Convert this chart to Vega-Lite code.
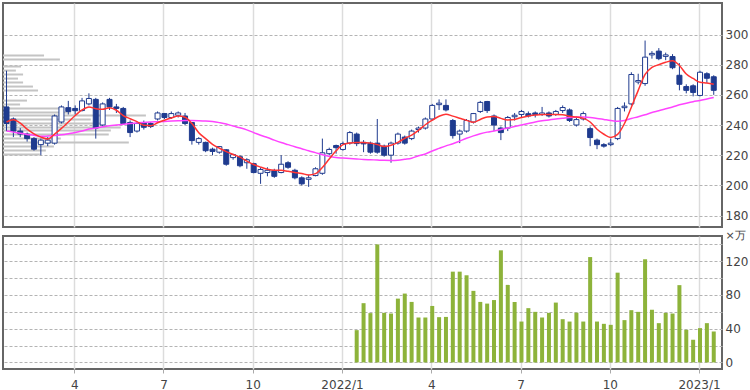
{
  "$schema": "https://vega.github.io/schema/vega-lite/v6.json",
  "padding": {"left": 2, "top": 2, "right": 0, "bottom": 0},
  "background": "white",
  "bounds": "flush",
  "spacing": 9,
  "config": {
    "view": {"stroke": "#666666", "strokeWidth": 2},
    "font": "DejaVu Sans",
    "axis": {"labelFont": "DejaVu Sans", "labelFontSize": 12, "labelColor": "#444444", "titleFont": "DejaVu Sans", "labelOverlap": false}
  },
  "datasets": {
    "w": [
      {"d": "2021-01-25", "o": 252, "h": 276, "l": 236, "c": 241, "v": null, "m13": 242, "m26": 236},
      {"d": "2021-02-01", "o": 244, "h": 245, "l": 232, "c": 236, "v": null, "m13": 243.5, "m26": 235.3},
      {"d": "2021-02-08", "o": 236, "h": 238, "l": 232, "c": 234, "v": null, "m13": 241.3, "m26": 234.5},
      {"d": "2021-02-15", "o": 234, "h": 235, "l": 229, "c": 231, "v": null, "m13": 237.3, "m26": 233.8},
      {"d": "2021-02-22", "o": 231, "h": 232, "l": 223, "c": 224, "v": null, "m13": 234.2, "m26": 233.2},
      {"d": "2021-03-01", "o": 227, "h": 231, "l": 220, "c": 230, "v": null, "m13": 232, "m26": 232.5},
      {"d": "2021-03-08", "o": 228, "h": 232, "l": 226, "c": 230, "v": null, "m13": 230.7, "m26": 232.7},
      {"d": "2021-03-15", "o": 228, "h": 247, "l": 227, "c": 246, "v": null, "m13": 234, "m26": 233},
      {"d": "2021-03-22", "o": 242, "h": 253, "l": 241, "c": 252, "v": null, "m13": 237.8, "m26": 233.5},
      {"d": "2021-03-29", "o": 251.5, "h": 256, "l": 247, "c": 249, "v": null, "m13": 242, "m26": 234.2},
      {"d": "2021-04-05", "o": 251, "h": 253, "l": 247, "c": 249.5, "v": null, "m13": 246.3, "m26": 235},
      {"d": "2021-04-12", "o": 249.6, "h": 258, "l": 249, "c": 256, "v": null, "m13": 250, "m26": 236.1},
      {"d": "2021-04-19", "o": 254, "h": 261, "l": 253, "c": 257.6, "v": null, "m13": 252, "m26": 237.3},
      {"d": "2021-04-26", "o": 257, "h": 258, "l": 231, "c": 238, "v": null, "m13": 250.8, "m26": 238.1},
      {"d": "2021-05-03", "o": 240, "h": 255, "l": 239, "c": 254, "v": null, "m13": 250.4, "m26": 238.8},
      {"d": "2021-05-10", "o": 257, "h": 258, "l": 250, "c": 252, "v": null, "m13": 251.5, "m26": 239.5},
      {"d": "2021-05-17", "o": 252, "h": 254, "l": 248, "c": 251, "v": null, "m13": 249.8, "m26": 240},
      {"d": "2021-05-24", "o": 251, "h": 252, "l": 240, "c": 241, "v": null, "m13": 246.3, "m26": 240.5},
      {"d": "2021-05-31", "o": 241.7, "h": 243, "l": 232, "c": 235, "v": null, "m13": 244.2, "m26": 241},
      {"d": "2021-06-07", "o": 236, "h": 242, "l": 235, "c": 241, "v": null, "m13": 242.3, "m26": 241.4},
      {"d": "2021-06-14", "o": 241.5, "h": 243, "l": 237, "c": 238.5, "v": null, "m13": 239.8, "m26": 241.7},
      {"d": "2021-06-21", "o": 241, "h": 242, "l": 238, "c": 239, "v": null, "m13": 239.5, "m26": 242},
      {"d": "2021-06-28", "o": 244, "h": 249, "l": 243, "c": 248, "v": null, "m13": 241.5, "m26": 242.2},
      {"d": "2021-07-05", "o": 247.6, "h": 248, "l": 244, "c": 245, "v": null, "m13": 243.2, "m26": 242.4},
      {"d": "2021-07-12", "o": 245, "h": 249, "l": 244, "c": 247.6, "v": null, "m13": 244.7, "m26": 242.6},
      {"d": "2021-07-19", "o": 246.5, "h": 249, "l": 245, "c": 248, "v": null, "m13": 246, "m26": 242.8},
      {"d": "2021-07-26", "o": 246, "h": 248, "l": 240, "c": 241, "v": null, "m13": 245.2, "m26": 243},
      {"d": "2021-08-02", "o": 241.7, "h": 242, "l": 227, "c": 229.7, "v": null, "m13": 241, "m26": 243},
      {"d": "2021-08-09", "o": 228.5, "h": 232, "l": 227, "c": 231, "v": null, "m13": 234.9, "m26": 242.9},
      {"d": "2021-08-16", "o": 228.5, "h": 229, "l": 222, "c": 223, "v": null, "m13": 231, "m26": 242.7},
      {"d": "2021-08-23", "o": 224, "h": 225, "l": 220, "c": 222.5, "v": null, "m13": 227.2, "m26": 242.3},
      {"d": "2021-08-30", "o": 222, "h": 226, "l": 221, "c": 225.7, "v": null, "m13": 224.6, "m26": 241.6},
      {"d": "2021-09-06", "o": 223.6, "h": 224, "l": 213, "c": 214, "v": null, "m13": 222.4, "m26": 240.7},
      {"d": "2021-09-13", "o": 218.4, "h": 221, "l": 217, "c": 220.4, "v": null, "m13": 220.5, "m26": 239.3},
      {"d": "2021-09-20", "o": 219, "h": 220, "l": 212, "c": 213, "v": null, "m13": 218.7, "m26": 238.2},
      {"d": "2021-09-27", "o": 215, "h": 218, "l": 211, "c": 217, "v": null, "m13": 216.1, "m26": 236.8},
      {"d": "2021-10-04", "o": 214.4, "h": 215, "l": 208, "c": 208.5, "v": null, "m13": 213.8, "m26": 235},
      {"d": "2021-10-11", "o": 208, "h": 212, "l": 201, "c": 210.5, "v": null, "m13": 212.1, "m26": 233.2},
      {"d": "2021-10-18", "o": 208.5, "h": 212, "l": 206, "c": 210, "v": null, "m13": 210.7, "m26": 231.7},
      {"d": "2021-10-25", "o": 209.7, "h": 211, "l": 205, "c": 206, "v": null, "m13": 210, "m26": 230},
      {"d": "2021-11-01", "o": 208.5, "h": 220, "l": 208, "c": 214, "v": null, "m13": 210, "m26": 228.4},
      {"d": "2021-11-08", "o": 215, "h": 216, "l": 211, "c": 212, "v": null, "m13": 209.3, "m26": 227},
      {"d": "2021-11-15", "o": 210, "h": 211, "l": 204, "c": 205, "v": null, "m13": 208.6, "m26": 225.6},
      {"d": "2021-11-22", "o": 205, "h": 206, "l": 200, "c": 201, "v": null, "m13": 207.9, "m26": 224.3},
      {"d": "2021-11-29", "o": 204, "h": 207, "l": 199, "c": 205, "v": null, "m13": 206.9, "m26": 222.9},
      {"d": "2021-12-06", "o": 206.5, "h": 212, "l": 206, "c": 211, "v": null, "m13": 207.8, "m26": 221.7},
      {"d": "2021-12-13", "o": 208, "h": 231, "l": 207, "c": 221.6, "v": null, "m13": 211.9, "m26": 220.3},
      {"d": "2021-12-20", "o": 221, "h": 225, "l": 220, "c": 223.8, "v": null, "m13": 217.5, "m26": 219.3},
      {"d": "2021-12-27", "o": 226.4, "h": 227, "l": 221, "c": 225, "v": null, "m13": 222.9, "m26": 218.4},
      {"d": "2022-01-03", "o": 223.8, "h": 229, "l": 223, "c": 227.7, "v": null, "m13": 227, "m26": 218.1},
      {"d": "2022-01-10", "o": 228, "h": 236, "l": 227, "c": 235, "v": null, "m13": 228.1, "m26": 217.8},
      {"d": "2022-01-17", "o": 234, "h": 235, "l": 226, "c": 227.7, "v": 38.3, "m13": 228.4, "m26": 217.5},
      {"d": "2022-01-24", "o": 228.5, "h": 230, "l": 222, "c": 227.5, "v": 70.3, "m13": 228.4, "m26": 217.2},
      {"d": "2022-01-31", "o": 228, "h": 229, "l": 221, "c": 222, "v": 58.5, "m13": 228, "m26": 217},
      {"d": "2022-02-07", "o": 228, "h": 244, "l": 221, "c": 222, "v": 140, "m13": 227, "m26": 216.8},
      {"d": "2022-02-14", "o": 226, "h": 227, "l": 219, "c": 220, "v": 58.8, "m13": 225.7, "m26": 216.6},
      {"d": "2022-02-21", "o": 220, "h": 229, "l": 215, "c": 228, "v": 58, "m13": 226.6, "m26": 216.5},
      {"d": "2022-02-28", "o": 228, "h": 235, "l": 227, "c": 234, "v": 75.7, "m13": 228.5, "m26": 216.7},
      {"d": "2022-03-07", "o": 232, "h": 233, "l": 227, "c": 228, "v": 81.7, "m13": 231.2, "m26": 217.3},
      {"d": "2022-03-14", "o": 231, "h": 237, "l": 230, "c": 236, "v": 71.8, "m13": 233.3, "m26": 218},
      {"d": "2022-03-21", "o": 237, "h": 239, "l": 235, "c": 238, "v": 53.3, "m13": 236.5, "m26": 219.6},
      {"d": "2022-03-28", "o": 238, "h": 245, "l": 237, "c": 244, "v": 53.3, "m13": 240.2, "m26": 220.8},
      {"d": "2022-04-04", "o": 244, "h": 254, "l": 243, "c": 253, "v": 67, "m13": 243.2, "m26": 222.8},
      {"d": "2022-04-11", "o": 253.5, "h": 257, "l": 250, "c": 254.5, "v": 53.7, "m13": 245.8, "m26": 224.5},
      {"d": "2022-04-18", "o": 253, "h": 257, "l": 249, "c": 250, "v": 54, "m13": 247.2, "m26": 226.2},
      {"d": "2022-04-25", "o": 243, "h": 244, "l": 231, "c": 233, "v": 107.7, "m13": 245.9, "m26": 227.6},
      {"d": "2022-05-02", "o": 234, "h": 237, "l": 228, "c": 236, "v": 107.7, "m13": 244.5, "m26": 229.4},
      {"d": "2022-05-09", "o": 236, "h": 244, "l": 235, "c": 243, "v": 103.4, "m13": 243.1, "m26": 231.2},
      {"d": "2022-05-16", "o": 242, "h": 248, "l": 241, "c": 247.6, "v": 84.9, "m13": 241.8, "m26": 232.8},
      {"d": "2022-05-23", "o": 249, "h": 256, "l": 248, "c": 255, "v": 71.8, "m13": 243.7, "m26": 234.2},
      {"d": "2022-05-30", "o": 255.6, "h": 256, "l": 248, "c": 249.6, "v": 69.8, "m13": 245.4, "m26": 235.3},
      {"d": "2022-06-06", "o": 246, "h": 247, "l": 236, "c": 240, "v": 74, "m13": 245.7, "m26": 236.1},
      {"d": "2022-06-13", "o": 238, "h": 239, "l": 230, "c": 235, "v": 133, "m13": 244.4, "m26": 237},
      {"d": "2022-06-20", "o": 238, "h": 246, "l": 236, "c": 245, "v": 92, "m13": 243.4, "m26": 238},
      {"d": "2022-06-27", "o": 245.5, "h": 248, "l": 243, "c": 246.5, "v": 71.8, "m13": 243.7, "m26": 239},
      {"d": "2022-07-04", "o": 247, "h": 250, "l": 245, "c": 249, "v": 48.5, "m13": 245, "m26": 240},
      {"d": "2022-07-11", "o": 247.5, "h": 249, "l": 245, "c": 246, "v": 64.4, "m13": 246, "m26": 241},
      {"d": "2022-07-18", "o": 248, "h": 249, "l": 245, "c": 247, "v": 60, "m13": 246.6, "m26": 242},
      {"d": "2022-07-25", "o": 247, "h": 252, "l": 246, "c": 248, "v": 53.3, "m13": 247, "m26": 242.8},
      {"d": "2022-08-01", "o": 248, "h": 249, "l": 245, "c": 246, "v": 58.8, "m13": 247, "m26": 243.4},
      {"d": "2022-08-08", "o": 247, "h": 250, "l": 246, "c": 249, "v": 71, "m13": 247, "m26": 244},
      {"d": "2022-08-15", "o": 249.6, "h": 253, "l": 248, "c": 251.6, "v": 51.3, "m13": 246.8, "m26": 244.5},
      {"d": "2022-08-22", "o": 250, "h": 251, "l": 242, "c": 243, "v": 48.5, "m13": 245.8, "m26": 245},
      {"d": "2022-08-29", "o": 240, "h": 245, "l": 239, "c": 243.6, "v": 59, "m13": 245.3, "m26": 245.3},
      {"d": "2022-09-05", "o": 244, "h": 249, "l": 243, "c": 247.6, "v": 48.5, "m13": 244.4, "m26": 245.3},
      {"d": "2022-09-12", "o": 237.6, "h": 239, "l": 226, "c": 231.7, "v": 125, "m13": 242, "m26": 245},
      {"d": "2022-09-19", "o": 230, "h": 231, "l": 224, "c": 227, "v": 48.5, "m13": 237.2, "m26": 244.4},
      {"d": "2022-09-26", "o": 227, "h": 228, "l": 225, "c": 226, "v": 45.8, "m13": 233.9, "m26": 243.7},
      {"d": "2022-10-03", "o": 227, "h": 231, "l": 226, "c": 228, "v": 44.6, "m13": 231.8, "m26": 243},
      {"d": "2022-10-10", "o": 231, "h": 252, "l": 230, "c": 251, "v": 106.5, "m13": 233.8, "m26": 242.5},
      {"d": "2022-10-17", "o": 251.5, "h": 255, "l": 249, "c": 252.5, "v": 50.2, "m13": 241, "m26": 243},
      {"d": "2022-10-24", "o": 254, "h": 275, "l": 253, "c": 273.5, "v": 62, "m13": 251.8, "m26": 244.3},
      {"d": "2022-10-31", "o": 268.5, "h": 274, "l": 267, "c": 269.5, "v": 60, "m13": 263, "m26": 245.5},
      {"d": "2022-11-07", "o": 267.5, "h": 296, "l": 266, "c": 285, "v": 122.4, "m13": 273.6, "m26": 246.8},
      {"d": "2022-11-14", "o": 286.5, "h": 289, "l": 284, "c": 287.5, "v": 62.5, "m13": 278.2, "m26": 248.3},
      {"d": "2022-11-21", "o": 289, "h": 291, "l": 283, "c": 284, "v": 46.6, "m13": 280, "m26": 249.5},
      {"d": "2022-11-28", "o": 285.5, "h": 288, "l": 283, "c": 286.5, "v": 58.8, "m13": 281.6, "m26": 250.8},
      {"d": "2022-12-05", "o": 285.4, "h": 287, "l": 277, "c": 278, "v": 58, "m13": 282.6, "m26": 252},
      {"d": "2022-12-12", "o": 273, "h": 281, "l": 263, "c": 267, "v": 91.7, "m13": 279.5, "m26": 253.4},
      {"d": "2022-12-19", "o": 265.5, "h": 267, "l": 261, "c": 263, "v": 38.7, "m13": 273.8, "m26": 254.5},
      {"d": "2022-12-26", "o": 266, "h": 267, "l": 259, "c": 261.6, "v": 26.9, "m13": 270.9, "m26": 255.5},
      {"d": "2023-01-02", "o": 259.6, "h": 276, "l": 259, "c": 275, "v": 40.7, "m13": 268.3, "m26": 256.3},
      {"d": "2023-01-09", "o": 274, "h": 275, "l": 268, "c": 271, "v": 46.6, "m13": 267.8, "m26": 257.3},
      {"d": "2023-01-16", "o": 272, "h": 273, "l": 260, "c": 263, "v": 36.7, "m13": 267, "m26": 258.3}
    ],
    "vp": [
      {"p": 286.1, "n": 13.7}, {"p": 283.4, "n": 19}, {"p": 278.8, "n": 6}, {"p": 276.1, "n": 4.3},
      {"p": 273.5, "n": 6.7}, {"p": 270.8, "n": 5}, {"p": 268.2, "n": 6.7}, {"p": 265.5, "n": 10},
      {"p": 262.9, "n": 11.7}, {"p": 256.2, "n": 8}, {"p": 253.6, "n": 5.7}, {"p": 250.9, "n": 20},
      {"p": 248.3, "n": 22.7}, {"p": 246.3, "n": 47.7}, {"p": 243.6, "n": 29.3}, {"p": 241, "n": 32.7},
      {"p": 238.3, "n": 39.3}, {"p": 236.3, "n": 36}, {"p": 233.7, "n": 35.3}, {"p": 231, "n": 19.3},
      {"p": 228.4, "n": 42}, {"p": 225.7, "n": 17}, {"p": 223.1, "n": 14.3}, {"p": 220.4, "n": 12.3}
    ]
  },
  "vconcat": [
    {
      "width": 719,
      "height": 224,
      "resolve": {"scale": {"x": "independent"}, "axis": {"x": "independent"}},
      "layer": [
        {
          "data": {"name": "vp"},
          "mark": {"type": "bar", "orient": "horizontal", "height": 2, "color": "#c4c4c4"},
          "encoding": {
            "y": {"field": "p", "type": "quantitative",
              "scale": {"domain": [172.4, 320.9], "nice": false, "zero": false, "padding": 0},
              "axis": {"orient": "right", "values": [180, 200, 220, 240, 260, 280, 300], "grid": true,
                "gridDash": [3, 2], "gridColor": "#b4b4b4", "gridWidth": 1, "ticks": false, "domain": false,
                "labelPadding": 3, "labelOverlap": false, "labelSeparation": 0, "title": null}},
            "x": {"field": "n", "type": "quantitative", "stack": null, "scale": {"domain": [0, 240], "nice": false, "padding": 0},
              "axis": {"labels": false, "ticks": false, "domain": false, "grid": false, "title": null}}
          }
        },
        {
          "data": {"name": "w"},
          "encoding": {
            "x": {"field": "d", "type": "temporal",
              "scale": {"type": "utc", "padding": 0, "domain": [{"year": 2021, "month": 1, "date": 21, "hours": 10, "utc": true}, {"year": 2023, "month": 1, "date": 24, "hours": 10, "utc": true}]},
              "axis": {"values": [
                  {"year": 2021, "month": 4, "date": 4, "utc": true}, {"year": 2021, "month": 7, "date": 4, "utc": true},
                  {"year": 2021, "month": 10, "date": 3, "utc": true}, {"year": 2022, "month": 1, "date": 2, "utc": true},
                  {"year": 2022, "month": 4, "date": 3, "utc": true}, {"year": 2022, "month": 7, "date": 3, "utc": true},
                  {"year": 2022, "month": 10, "date": 2, "utc": true}, {"year": 2023, "month": 1, "date": 1, "utc": true}],
                "labels": false, "ticks": false, "domain": false, "grid": true, "gridColor": "#dcdcdc", "gridWidth": 1.5, "title": null}}
          },
          "layer": [
            {
              "mark": {"type": "rule", "color": "#1f3b8f", "strokeWidth": 1},
              "encoding": {
                "y": {"field": "l", "type": "quantitative", "scale": {"domain": [172.4, 320.9], "nice": false, "zero": false, "padding": 0},
                  "axis": {"orient": "right", "values": [180, 200, 220, 240, 260, 280, 300], "grid": true,
                    "gridDash": [3, 2], "gridColor": "#b4b4b4", "gridWidth": 1, "ticks": false, "domain": false,
                    "labelPadding": 3, "labelOverlap": false, "labelSeparation": 0, "title": null}},
                "y2": {"field": "h"}
              }
            },
            {
              "mark": {"type": "bar", "width": 5, "stroke": "#1f3b8f", "strokeWidth": 1},
              "encoding": {
                "y": {"field": "o", "type": "quantitative", "scale": {"domain": [172.4, 320.9], "nice": false, "zero": false, "padding": 0},
                  "axis": {"orient": "right", "values": [180, 200, 220, 240, 260, 280, 300], "grid": true,
                    "gridDash": [3, 2], "gridColor": "#b4b4b4", "gridWidth": 1, "ticks": false, "domain": false,
                    "labelPadding": 3, "labelOverlap": false, "labelSeparation": 0, "title": null}},
                "y2": {"field": "c"},
                "fill": {"condition": {"test": "datum.c >= datum.o", "value": "#ffffff"}, "value": "#1f3b8f"}
              }
            },
            {
              "mark": {"type": "line", "color": "#ff44ff", "strokeWidth": 1.5, "interpolate": "monotone"},
              "encoding": {
                "y": {"field": "m26", "type": "quantitative", "scale": {"domain": [172.4, 320.9], "nice": false, "zero": false, "padding": 0},
                  "axis": {"orient": "right", "values": [180, 200, 220, 240, 260, 280, 300], "grid": true,
                    "gridDash": [3, 2], "gridColor": "#b4b4b4", "gridWidth": 1, "ticks": false, "domain": false,
                    "labelPadding": 3, "labelOverlap": false, "labelSeparation": 0, "title": null}}
              }
            },
            {
              "mark": {"type": "line", "color": "#ff3333", "strokeWidth": 1.5, "interpolate": "monotone"},
              "encoding": {
                "y": {"field": "m13", "type": "quantitative", "scale": {"domain": [172.4, 320.9], "nice": false, "zero": false, "padding": 0},
                  "axis": {"orient": "right", "values": [180, 200, 220, 240, 260, 280, 300], "grid": true,
                    "gridDash": [3, 2], "gridColor": "#b4b4b4", "gridWidth": 1, "ticks": false, "domain": false,
                    "labelPadding": 3, "labelOverlap": false, "labelSeparation": 0, "title": null}}
              }
            }
          ]
        }
      ]
    },
    {
      "width": 719,
      "height": 133,
      "data": {"name": "w"},
      "transform": [{"filter": "isValid(datum.v)"}],
      "mark": {"type": "bar", "width": 4, "color": "#8db33a"},
      "encoding": {
        "x": {"field": "d", "type": "temporal",
          "scale": {"type": "utc", "padding": 0, "domain": [{"year": 2021, "month": 1, "date": 21, "hours": 10, "utc": true}, {"year": 2023, "month": 1, "date": 24, "hours": 10, "utc": true}]},
          "axis": {"values": [
              {"year": 2021, "month": 4, "date": 4, "utc": true}, {"year": 2021, "month": 7, "date": 4, "utc": true},
              {"year": 2021, "month": 10, "date": 3, "utc": true}, {"year": 2022, "month": 1, "date": 2, "utc": true},
              {"year": 2022, "month": 4, "date": 3, "utc": true}, {"year": 2022, "month": 7, "date": 3, "utc": true},
              {"year": 2022, "month": 10, "date": 2, "utc": true}, {"year": 2023, "month": 1, "date": 1, "utc": true}],
            "labelExpr": "utcFormat(datum.value, '%m') == '01' ? utcFormat(datum.value, '%Y/1') : utcFormat(datum.value, '%-m')",
            "ticks": true, "tickSize": 4, "tickColor": "#aaaaaa", "domain": false, "grid": true, "gridColor": "#dcdcdc",
            "gridWidth": 1.5, "labelPadding": 6, "labelFlush": false, "labelOverlap": false, "title": null}},
        "y": {"field": "v", "type": "quantitative",
          "scale": {"domain": [-7.8, 150], "nice": false, "padding": 0},
          "axis": {"orient": "right", "values": [0, 20, 40, 60, 80, 100, 120, 140],
            "labelExpr": "datum.value % 40 == 0 ? datum.label : ''",
            "grid": true, "gridDash": [3, 2], "gridColor": "#b4b4b4", "gridWidth": 1, "ticks": false, "domain": false,
            "labelPadding": 3, "labelOverlap": false, "title": "×万", "titleAngle": 0, "titleX": 3, "titleY": 2, "titleAlign": "left",
            "titleBaseline": "alphabetic", "titleFontSize": 11, "titleFontWeight": "normal", "titleColor": "#444444"}}
      }
    }
  ]
}
